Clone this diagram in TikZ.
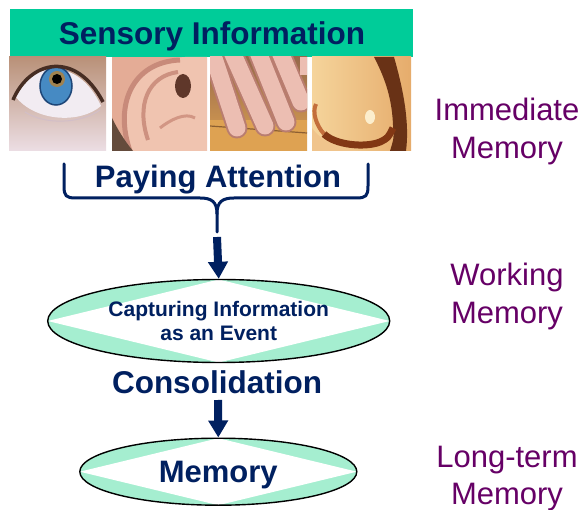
\documentclass[tikz,border=0pt]{standalone}
\usepackage{fontspec}
\setmainfont{Liberation Sans}
\usetikzlibrary{shapes.geometric,arrows.meta}
\definecolor{navy}{RGB}{0,32,96}
\definecolor{hdrgreen}{RGB}{0,204,153}
\definecolor{memviolet}{RGB}{102,0,102}
\definecolor{mint}{RGB}{165,238,208}
% photo colours
\definecolor{eyeskin}{RGB}{185,145,120}
\definecolor{eyepale}{RGB}{236,222,228}
\definecolor{sclera}{RGB}{242,236,242}
\definecolor{iris}{RGB}{70,138,195}
\definecolor{irisedge}{RGB}{30,70,120}
\definecolor{irisamber}{RGB}{160,130,80}
\definecolor{lash}{RGB}{70,45,35}
\definecolor{lidline}{RGB}{210,190,200}
\definecolor{earskin}{RGB}{228,172,150}
\definecolor{earlight}{RGB}{240,196,176}
\definecolor{earfold}{RGB}{200,138,122}
\definecolor{earfoldb}{RGB}{205,145,128}
\definecolor{earfoldc}{RGB}{210,150,132}
\definecolor{earcanal}{RGB}{95,55,42}
\definecolor{hair}{RGB}{100,75,60}
\definecolor{woodtop}{RGB}{150,105,75}
\definecolor{wood}{RGB}{222,162,82}
\definecolor{woodline}{RGB}{140,95,50}
\definecolor{fingeredge}{RGB}{185,125,112}
\definecolor{finger}{RGB}{236,190,178}
\definecolor{noselight}{RGB}{245,212,155}
\definecolor{nosemid}{RGB}{230,172,108}
\definecolor{noseshadow}{RGB}{105,50,22}
\definecolor{noselow}{RGB}{240,196,140}
\definecolor{nostril}{RGB}{130,55,20}
\definecolor{nostrillight}{RGB}{195,110,60}
\definecolor{nosehigh}{RGB}{252,238,205}
\begin{document}
\begin{tikzpicture}[x=1pt,y=-1pt,
  navytext/.style={text=navy, font=\bfseries\fontsize{31.5}{36}\selectfont, inner sep=0pt},
  memlabel/.style={text=memviolet, font=\fontsize{31}{37.3}\selectfont, align=center, inner sep=0pt},
  hdrbox/.style={fill=hdrgreen, minimum width=403pt, minimum height=48pt, inner sep=0pt},
  evt/.style={ellipse, draw=black, line width=1.4pt, inner sep=0pt, text=navy,
    path picture={
      \fill[mint] (path picture bounding box.south west) rectangle (path picture bounding box.north east);
      \fill[white] (path picture bounding box.north) -- (path picture bounding box.west)
        -- (path picture bounding box.south) -- (path picture bounding box.east) -- cycle;}},
  bigarrow/.style={navy, line width=8pt, -{Triangle[width=19pt,length=17pt]}},
  bracestyle/.style={navy, line width=3pt, line cap=round, line join=round}]
\useasboundingbox (0,0) rectangle (581,510);
\fill[white] (0,0) rectangle (581,510);

% header
\node[hdrbox] (hdr) at (211.5,33) {};
\node[navytext, anchor=base] (sens) at (212,45) {Sensory Information};

% ---- eye photo
\begin{scope}
\clip (9,57) rectangle (106,151);
\shade[top color=eyeskin, bottom color=eyepale] (9,57) rectangle (106,151);
\fill[sclera] (15,96) .. controls (30,62) and (78,55) .. (101,106) .. controls (80,124) and (35,122) .. cycle;
\fill[iris] (56,86) ellipse (16 and 19);
\draw[irisedge, line width=1.5pt] (56,86) ellipse (16 and 19);
\fill[irisamber] (57,79) circle (8);
\fill[black] (57,79) circle (5);
\draw[lash, line width=3.5pt] (13,100) .. controls (30,60) and (76,50) .. (103,102);
\draw[lidline, line width=1pt] (25,112) .. controls (45,125) and (80,124) .. (100,110);
\end{scope}

% ---- ear photo
\begin{scope}
\clip (112,57) rectangle (207,151);
\fill[earskin] (112,57) rectangle (207,151);
\fill[earlight] (128,151) .. controls (112,105) and (130,60) .. (185,57) -- (207,57) -- (207,151) -- cycle;
\draw[earfold, line width=5pt] (130,151) .. controls (114,105) and (132,62) .. (180,60);
\draw[earfoldb, line width=4pt] (148,140) .. controls (136,105) and (148,76) .. (178,72);
\draw[earfoldc, line width=3pt] (160,128) .. controls (170,120) and (185,112) .. (195,118);
\fill[earcanal] (183,86) ellipse (8 and 12);
\fill[hair] (112,118) -- (112,151) -- (133,151) .. controls (124,140) and (118,130) .. cycle;
\end{scope}

% ---- hand photo
\begin{scope}
\clip (210,57) rectangle (307,151);
\shade[top color=woodtop, bottom color=wood] (210,57) rectangle (307,151);
\fill[wood] (210,120) rectangle (307,151);
\draw[woodline, line width=1.2pt] (210,126) -- (307,133);
\foreach \a/\b in {{212,52}/{237,128},{232,52}/{265,126},{258,52}/{286,122},{280,52}/{301,102}}{
  \draw[fingeredge, line width=21pt, line cap=round] (\a) -- (\b);
  \draw[finger, line width=17pt, line cap=round] (\a) -- (\b);
}
\fill[finger] (300,57) rectangle (307,75);
\end{scope}

% ---- nose photo
\begin{scope}
\clip (312,57) rectangle (411,151);
\shade[left color=noselight, right color=nosemid] (312,57) rectangle (411,151);
\fill[noseshadow] (374,57) .. controls (386,80) and (392,100) .. (393,125) .. controls (394,138) .. (390,151)
  -- (406,151) .. controls (410,120) and (402,85) .. (394,57) -- cycle;
\fill[noselow] (312,128) .. controls (322,142) and (340,150) .. (365,151) -- (312,151) -- cycle;
\draw[nostrillight, line width=4pt] (316,104) .. controls (312,112) and (316,125) .. (324,134);
\draw[nostril, line width=7pt] (324,134) .. controls (335,145) and (365,148) .. (380,142) .. controls (388,138) .. (393,128);
\fill[nosehigh] (370,117) ellipse (5 and 7);
\end{scope}

% brace
\coordinate (bl) at (64,164);
\coordinate (br) at (368,164);
\coordinate (bm) at (217,232);
\draw[bracestyle] (bl) -- (64,186) .. controls (64,196) and (66,198) .. (76,198) -- (200,198)
  .. controls (212,198) and (217,202) .. (217,214) -- (bm);
\draw[bracestyle] (br) -- (368,186) .. controls (368,196) and (366,198) .. (356,198) -- (234,198)
  .. controls (222,198) and (217,202) .. (217,214);
\node[navytext, font=\bfseries\fontsize{31}{36}\selectfont, anchor=base] (pay) at (218,188) {Paying Attention};

% ellipses
\node[evt, minimum width=342pt, minimum height=83pt, font=\bfseries\fontsize{21}{24}\selectfont, align=center] (cap) at (218.7,321) {Capturing Information\\as an Event};
\node[navytext, anchor=base] (cons) at (217,394) {Consolidation};
\node[evt, minimum width=277pt, minimum height=67pt, font=\bfseries\fontsize{31}{36}\selectfont, text depth=0pt] (mem) at (218.3,471.7) {Memory};

\coordinate (a1) at (217,237);
\coordinate (a2) at (218,400);
\draw[bigarrow] (a1) -- (cap.north);
\draw[bigarrow] (a2) -- (mem.north);

% right labels
\node[memlabel] (imm) at (507,131.6) {Immediate\\Memory};
\node[memlabel] (work) at (507,296.6) {Working\\Memory};
\node[memlabel] (long) at (507,478.6) {Long-term\\Memory};
\end{tikzpicture}
\end{document}
